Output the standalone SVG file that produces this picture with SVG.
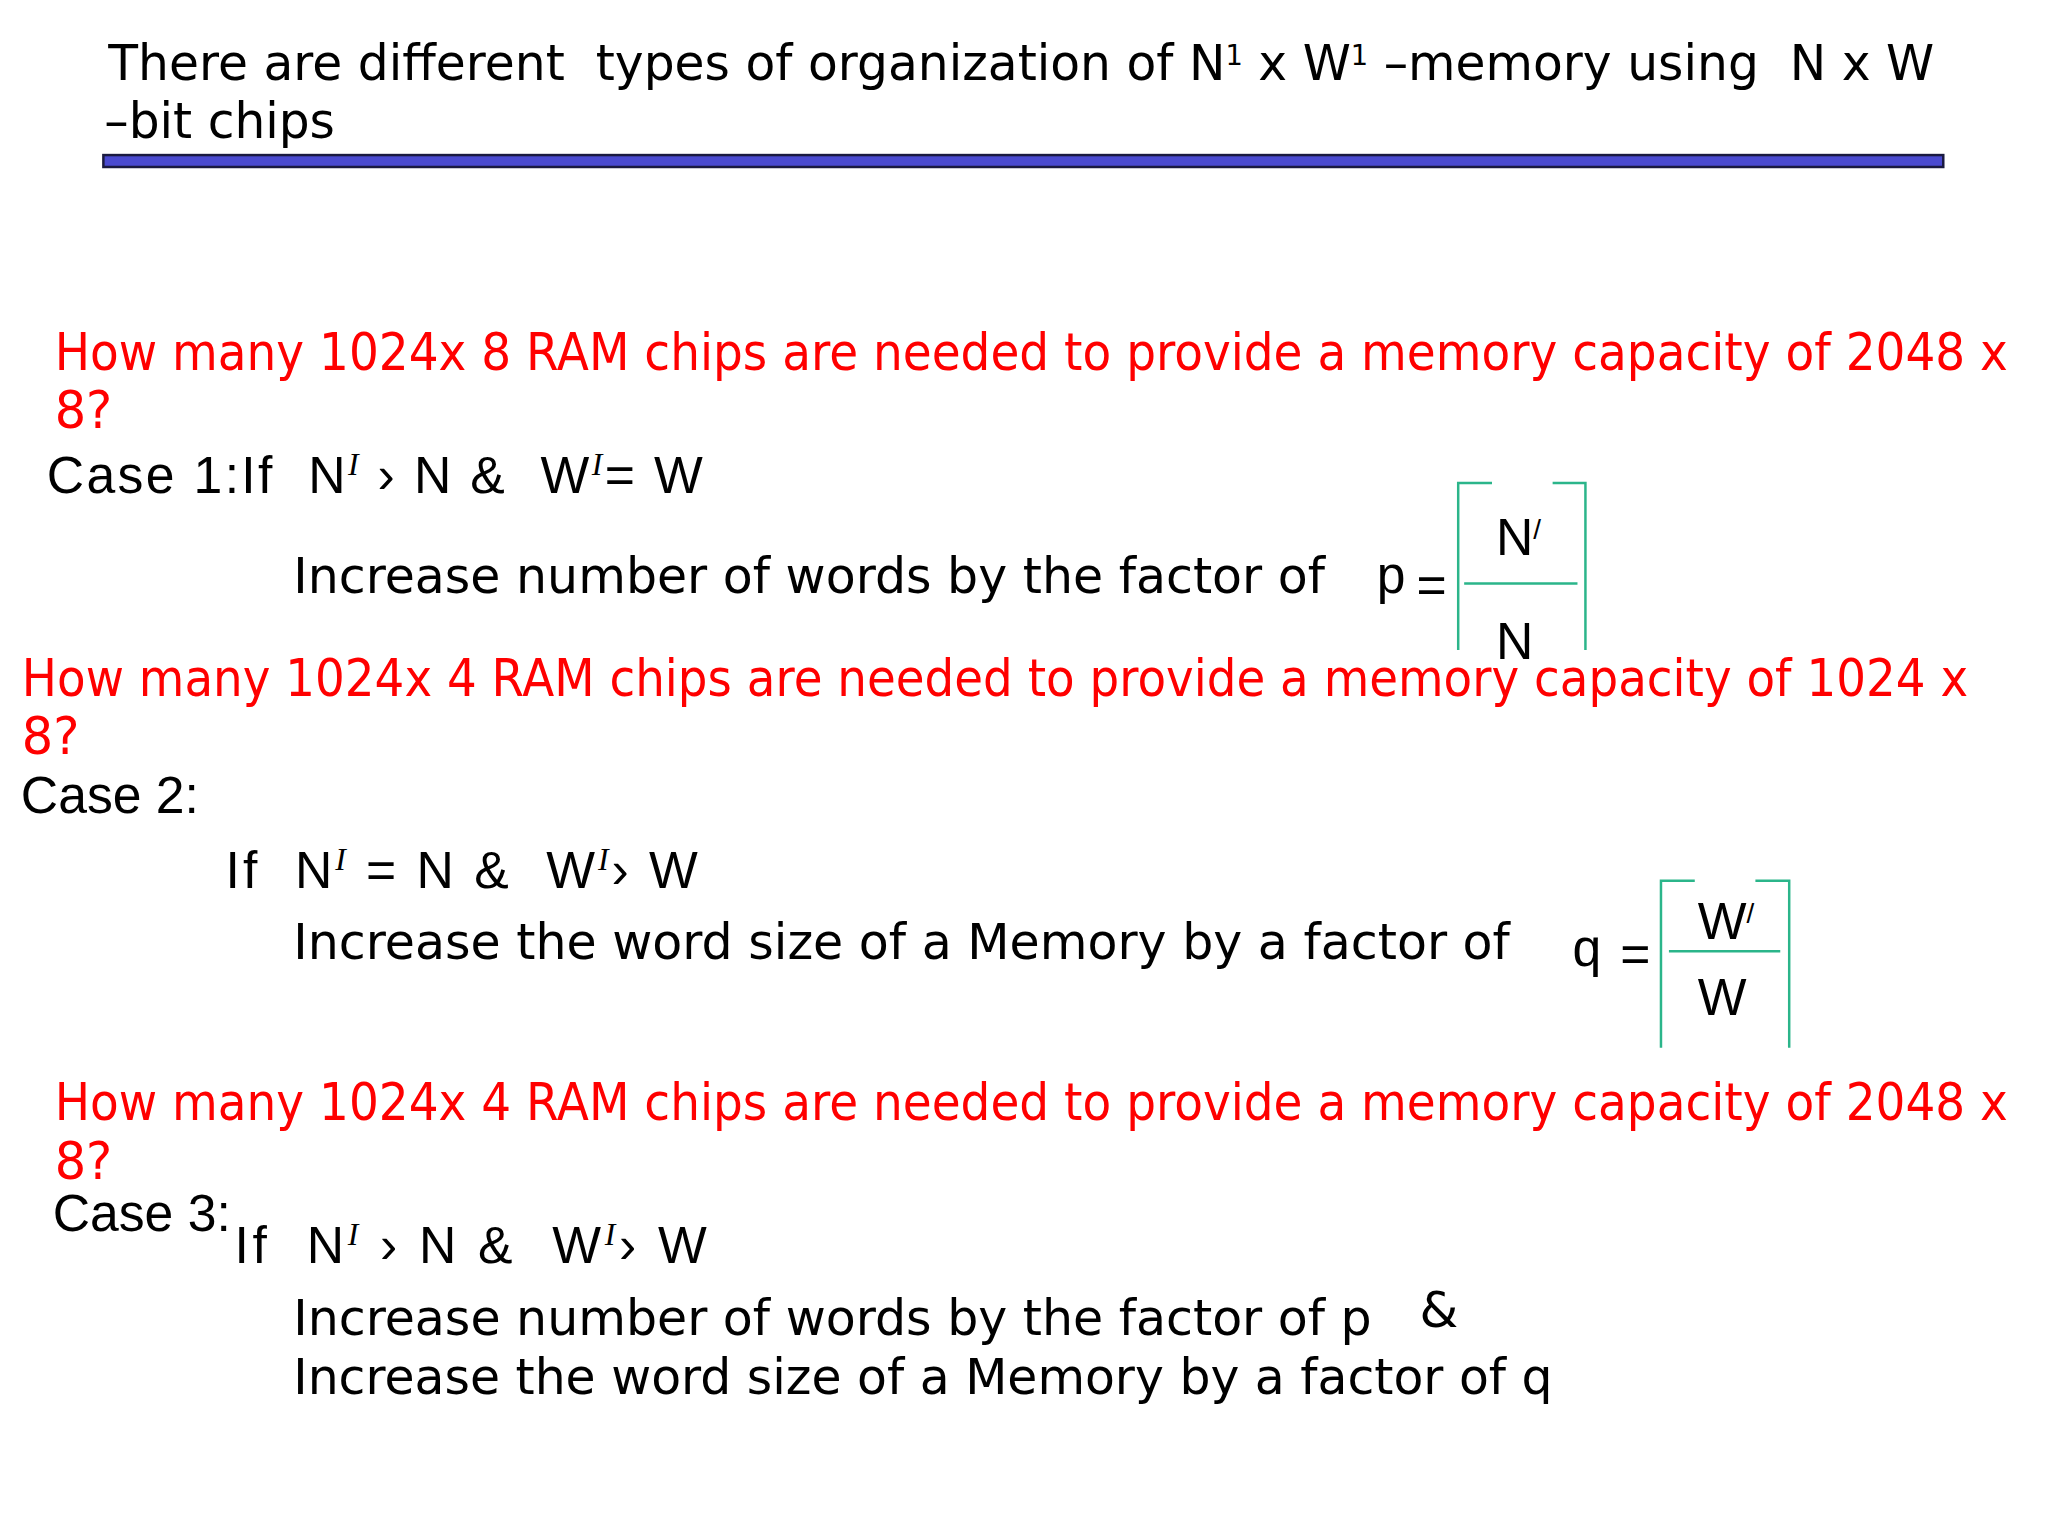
<svg xmlns="http://www.w3.org/2000/svg" width="2048" height="1536" viewBox="0 0 2048 1536">
<style>
text{white-space:pre}
.c{font-family:"DejaVu Sans",sans-serif;font-size:50px;fill:#000}
.r{font-family:"DejaVu Sans",sans-serif;font-size:52px;fill:#ff0000}
.a{font-family:"Liberation Sans",Arial,sans-serif;font-size:52px;fill:#000}
.s{font-family:"Liberation Serif",serif;font-style:italic;font-size:32px}
.g{stroke:#2bb58a;stroke-width:2.5;fill:none}
</style>
<rect width="2048" height="1536" fill="#fff"/>
<g transform="scale(0.994)">
<g id="title">
<text class="c" x="109" y="81" textLength="1837" lengthAdjust="spacingAndGlyphs">There are different  types of organization of N<tspan font-size="28" dy="-16">1</tspan><tspan dy="16"> x W</tspan><tspan font-size="28" dy="-16">1</tspan><tspan dy="16"> –memory using  N x W</tspan></text>
<text class="c" x="105" y="139" textLength="232" lengthAdjust="spacingAndGlyphs">–bit chips</text>
<rect x="104" y="156" width="1851" height="12" fill="#4a4ad0" stroke="#1a1a40" stroke-width="2.5"/>
</g>
<g id="q1">
<text class="r" x="55" y="372" textLength="1965" lengthAdjust="spacingAndGlyphs">How many 1024x 8 RAM chips are needed to provide a memory capacity of 2048 x</text>
<text class="r" x="55" y="431" textLength="58" lengthAdjust="spacingAndGlyphs">8?</text>
</g>
<g id="case1">
<text class="a" x="47" y="496" textLength="660">Case 1:If  N<tspan class="s" dy="-18">I</tspan><tspan dy="18"> › N &amp;  W</tspan><tspan class="s" dy="-18">I</tspan><tspan dy="18">= W</tspan></text>
<text class="c" x="295" y="597" textLength="1038" lengthAdjust="spacingAndGlyphs">Increase number of words by the factor of</text>
<text class="a" x="1385" y="597">p</text><text class="a" x="1425" y="607" font-size="40">=</text>
<path class="g" d="M1501 486H1467V654M1562 486H1595V654M1473 587H1587"/>
<text class="a" x="1505" y="558">N<tspan font-size="28" dy="-16">/</tspan></text>
<text class="a" x="1505" y="663">N</text>
</g>
<g id="q2">
<text class="r" x="22" y="700" textLength="1958" lengthAdjust="spacingAndGlyphs">How many 1024x 4 RAM chips are needed to provide a memory capacity of 1024 x</text>
<text class="r" x="22" y="759" textLength="58" lengthAdjust="spacingAndGlyphs">8?</text>
</g>
<g id="case2">
<text class="a" x="21" y="818">Case 2:</text>
<text class="a" x="227" y="893" textLength="475">If  N<tspan class="s" dy="-18">I</tspan><tspan dy="18"> = N &amp;  W</tspan><tspan class="s" dy="-18">I</tspan><tspan dy="18">› W</tspan></text>
<text class="c" x="295" y="965" textLength="1224" lengthAdjust="spacingAndGlyphs">Increase the word size of a Memory by a factor of</text>
<text class="a" x="1582" y="972">q</text><text class="a" x="1630" y="978" font-size="40">=</text>
<path class="g" d="M1705 886H1671V1054M1766 886H1800V1054M1679 957H1791"/>
<text class="a" x="1708" y="945">W<tspan font-size="28" dy="-16">/</tspan></text>
<text class="a" x="1708" y="1021">W</text>
</g>
<g id="q3">
<text class="r" x="55" y="1127" textLength="1965" lengthAdjust="spacingAndGlyphs">How many 1024x 4 RAM chips are needed to provide a memory capacity of 2048 x</text>
<text class="r" x="55" y="1186" textLength="58" lengthAdjust="spacingAndGlyphs">8?</text>
</g>
<g id="case3">
<text class="a" x="53" y="1238">Case 3:</text>
<text class="a" x="236" y="1271" textLength="475">If  N<tspan class="s" dy="-18">I</tspan><tspan dy="18"> › N &amp;  W</tspan><tspan class="s" dy="-18">I</tspan><tspan dy="18">› W</tspan></text>
<text class="c" x="295" y="1343" textLength="1085" lengthAdjust="spacingAndGlyphs">Increase number of words by the factor of p</text>
<text class="c" x="1428" y="1335">&amp;</text>
<text class="c" x="295" y="1402" textLength="1267" lengthAdjust="spacingAndGlyphs">Increase the word size of a Memory by a factor of q</text>
</g>
</g>
</svg>
